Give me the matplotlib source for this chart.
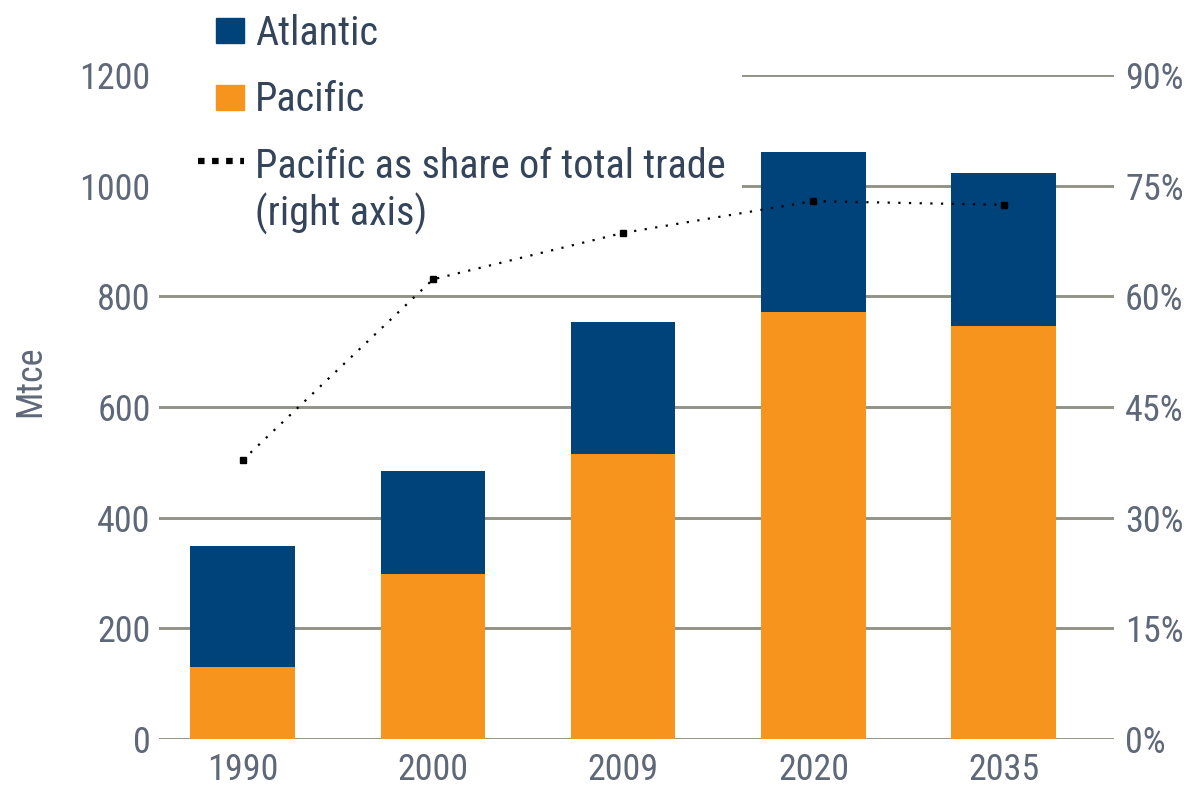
import numpy as np
import matplotlib
matplotlib.use('Agg')
import matplotlib.pyplot as plt
import matplotlib.patches as mpatches
from matplotlib.lines import Line2D
from matplotlib.legend_handler import HandlerPatch
from matplotlib.ticker import PercentFormatter
from matplotlib import font_manager

# data (Mtce)
years = ['1990', '2000', '2009', '2020', '2035']
pacific = [130, 298, 515, 772, 746]
atlantic = [219, 186, 239, 289, 277]
pacific_share = [0.378, 0.623, 0.686, 0.729, 0.724]

left_ticks = [0, 200, 400, 600, 800, 1000, 1200]
right_ticks = [0, 0.15, 0.30, 0.45, 0.60, 0.75, 0.90]

navy = '#00437a'
orange = '#f6941e'
grid_c = '#929286'
tick_c = '#5f6878'
legend_c = '#34445a'

# condensed font if there is one
names = {f.name for f in font_manager.fontManager.ttflist}
font = 'Liberation Sans'
for cand in ['Liberation Sans Narrow', 'Roboto Condensed', 'Open Sans Condensed']:
    if cand in names:
        font = cand
        break
narrow = font != 'Liberation Sans'
plt.rcParams['font.family'] = [font, 'DejaVu Sans']
tick_fs = 26 if narrow else 22
leg_fs = 29 if narrow else 26

fig = plt.figure(figsize=(11.88, 7.88), dpi=100)
ax = fig.add_axes([159 / 1188, 1 - 739 / 788, (1114 - 159) / 1188, (739 - 75) / 788])

x = np.arange(len(years))
ax.bar(x, pacific, width=0.55, color=orange, zorder=2, label='Pacific')
ax.bar(x, atlantic, width=0.55, bottom=pacific, color=navy, zorder=2, label='Atlantic')

ax.set_xlim(-0.44, 4.58)
ax.set_ylim(0, 1200)
ax.set_yticks(left_ticks)
ax.set_xticks(x)
ax.set_xticklabels(years)
ax.yaxis.grid(True, color=grid_c, lw=2.1)
ax.set_axisbelow(True)
for s in ax.spines.values():
    s.set_visible(False)
ax.tick_params(axis='both', length=0, labelsize=tick_fs, labelcolor=tick_c)
ax.tick_params(axis='y', pad=6)
ax.tick_params(axis='x', pad=9)
ax.set_ylabel('Mtce', fontsize=tick_fs, color=tick_c)
ax.yaxis.set_label_coords((48 - 159) / 955, 0.539)

# white area behind the legend hides the top gridlines
ax.add_patch(mpatches.Rectangle((0, 0.75), 0.61, 0.3, transform=ax.transAxes,
                                facecolor='white', edgecolor='none', zorder=0.9,
                                clip_on=False))

ax2 = ax.twinx()
ax2.set_ylim(0, 0.9)
ax2.set_yticks(right_ticks)
ax2.yaxis.set_major_formatter(PercentFormatter(1.0, decimals=0))
for s in ax2.spines.values():
    s.set_visible(False)
ax2.tick_params(axis='y', length=0, labelsize=tick_fs, labelcolor=tick_c, pad=8)
ax2.plot(x, pacific_share, color='black', lw=1.6, linestyle=(0, (1, 3.8)),
         marker='s', ms=4.5, zorder=5)


def square(legend, orig_handle, xdescent, ydescent, width, height, fontsize):
    w, h = 20, 18
    return mpatches.Rectangle((-xdescent + width - w, -ydescent + (height - h) / 2), w, h)


handles = [mpatches.Patch(color=navy), mpatches.Patch(color=orange),
           Line2D([], [], color='black', lw=4.5, linestyle=(0, (1.05, 1.2)))]
labels = ['Atlantic', 'Pacific', 'Pacific as share of total trade\n(right axis)']
leg = ax2.legend(handles, labels, loc='upper left', bbox_to_anchor=(198 / 1188, 1 - 14 / 788),
                 bbox_transform=fig.transFigure, frameon=False, fontsize=leg_fs,
                 handlelength=1.14, handletextpad=0.28, labelspacing=0.68,
                 borderpad=0, borderaxespad=0,
                 handler_map={mpatches.Patch: HandlerPatch(patch_func=square)})
for t in leg.get_texts():
    t.set_color(legend_c)
    t.set_linespacing(1.22)
try:
    rows = leg._legend_handle_box.get_children()[0].get_children()
    rows[2].align = 'top'
except Exception:
    pass

fig.savefig('out.png', dpi=100, facecolor='white')
